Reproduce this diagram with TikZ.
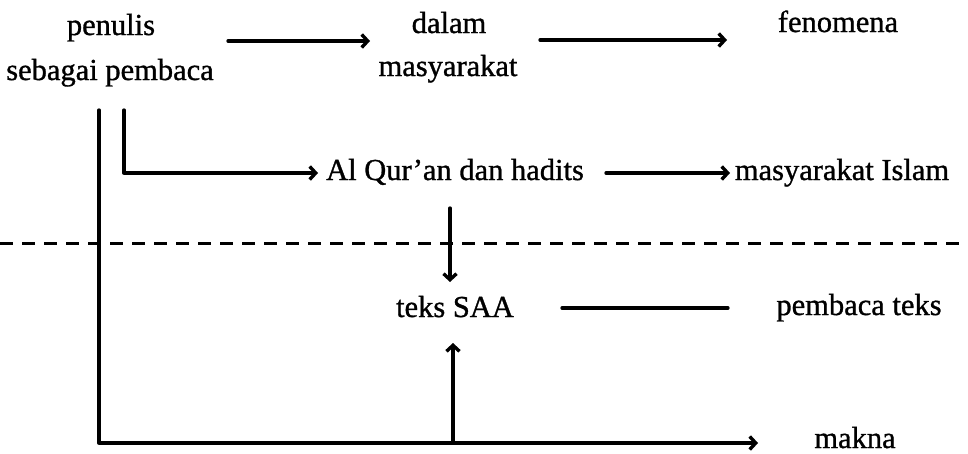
\documentclass[tikz,border=0pt]{standalone}
\usepackage{fontspec}
\setmainfont{Liberation Serif}[FakeBold=1.0]
\usetikzlibrary{arrows.meta}
\begin{document}
\begin{tikzpicture}[x=1pt,y=-1pt,
  lbl/.style={anchor=base,inner sep=0pt,font=\fontsize{30.5}{36}\selectfont},
  wire/.style={line width=3.3pt,line cap=round,line join=round},
  arr/.style={wire,-{Straight Barb[length=6pt,width=13pt,line width=3.4pt]}},
  sep/.style={line width=3pt,dash pattern=on 13pt off 9pt}]
\useasboundingbox (0,0) rectangle (968,453);

% labels
\node[lbl] (penulis) at (111,35) {penulis};
\node[lbl] (pembaca) at (110,80) {sebagai pembaca};
\node[lbl] (dalam) at (449,33) {dalam};
\node[lbl] (masy) at (448,76) {masyarakat};
\node[lbl] (fenomena) at (838,32) {fenomena};
\node[lbl] (quran) at (455,180) {Al Qur'an dan hadits};
\node[lbl] (islam) at (842,180) {masyarakat Islam};
\node[lbl] (teks) at (455,317) {teks SAA};
\node[lbl] (pteks) at (859,315) {pembaca teks};
\node[lbl] (makna) at (855,448) {makna};

% connector end points
\coordinate (a1s) at (228,41);  \coordinate (a1e) at (370,41);
\coordinate (a2s) at (540,40);  \coordinate (a2e) at (727,40);
\coordinate (l1t) at (99,110);  \coordinate (l1b) at (99,443);
\coordinate (l1e) at (758,443);
\coordinate (l2t) at (124,110); \coordinate (l2b) at (124,173);
\coordinate (l2e) at (318,173);
\coordinate (a3s) at (606,173); \coordinate (a3e) at (730,173);
\coordinate (dns) at (450,208); \coordinate (dne) at (450,282);
\coordinate (ups) at (453,443); \coordinate (upe) at (453,343);
\coordinate (ts) at (562,308);  \coordinate (te) at (728,308);
\coordinate (dl) at (0,243);    \coordinate (dr) at (968,243);

% connectors
\draw[arr] (a1s) -- (a1e);
\draw[arr] (a2s) -- (a2e);
\draw[arr] (l1t) -- (l1b) -- (l1e);
\draw[arr] (l2t) -- (l2b) -- (l2e);
\draw[arr] (a3s) -- (a3e);
\draw[arr] (dns) -- (dne);
\draw[arr] (ups) -- (upe);
\draw[wire] (ts) -- (te);

% separating dashed line
\draw[sep] (dl) -- (dr);
\end{tikzpicture}
\end{document}
